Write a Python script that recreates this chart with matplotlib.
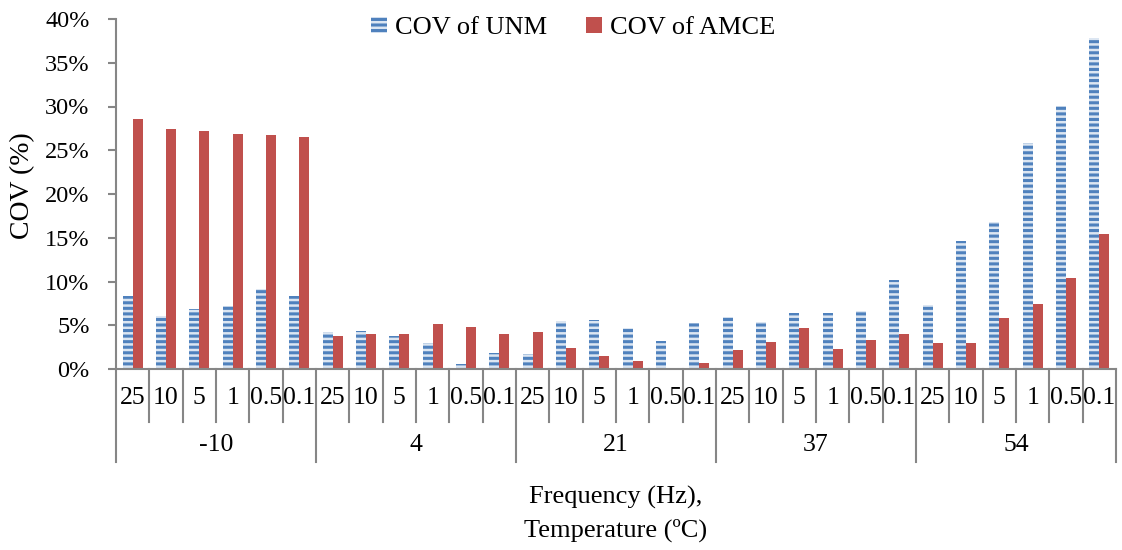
import numpy as np
import matplotlib
matplotlib.use("Agg")
import matplotlib.pyplot as plt
import matplotlib.transforms as mtransforms

plt.rcParams['font.family'] = ['Liberation Serif', 'DejaVu Serif']
plt.rcParams['hatch.linewidth'] = 2.2

# Data. [%]
temperatures = ["-10", "4", "21", "37", "54"]
frequencies = ["25", "10", "5", "1", "0.5", "0.1"]
cov_unm = [8.4, 6.1, 6.9, 7.2, 9.2, 8.4,
           4.25, 4.33, 3.76, 2.96, 0.53, 1.82,
           1.71, 5.47, 5.58, 4.67, 3.15, 5.28,
           5.96, 5.36, 6.35, 6.42, 6.65, 10.14,
           7.29, 14.6, 16.8, 25.8, 30.1, 37.8]
cov_amce = [28.6, 27.4, 27.2, 26.9, 26.7, 26.5,
            3.76, 3.99, 3.95, 5.13, 4.82, 3.99,
            4.25, 2.39, 1.44, 0.91, 0.15, 0.72,
            2.17, 3.08, 4.67, 2.32, 3.30, 3.99,
            2.93, 3.0, 5.85, 7.48, 10.4, 15.46]

AXIS_GREY = '#868686'
BLUE = '#4f81bd'
RED = '#c0504d'
FS = 18.5

n_freq = len(frequencies)
n_cat = len(temperatures) * n_freq
x = np.arange(n_cat)
bar_w = 0.3

fig = plt.figure(figsize=(11.22, 5.5), dpi=100)
ax = fig.add_axes([116 / 1122, 1 - 369 / 550, 1000 / 1122, 350 / 550])

ax.bar(x - bar_w / 2, cov_unm, bar_w, facecolor='#dce6f2', edgecolor=BLUE,
       linewidth=0, hatch='---', label='COV of UNM')
ax.bar(x + bar_w / 2, cov_amce, bar_w, color=RED, linewidth=0, label='COV of AMCE')

ax.set_xlim(-0.5, n_cat - 0.5)
ax.set_ylim(0, 40)
ax.set_yticks(np.arange(0, 41, 5))
ax.set_yticklabels(["{:d}%".format(v) for v in range(0, 41, 5)], fontsize=17.5)
ax.tick_params(axis='y', length=6, width=1.5, color=AXIS_GREY, pad=13)
ax.set_xticks([])
for side in ['top', 'right']:
    ax.spines[side].set_visible(False)
for side in ['left', 'bottom']:
    ax.spines[side].set_color(AXIS_GREY)
    ax.spines[side].set_linewidth(1.5)

# two-level category axis
trans = mtransforms.blended_transform_factory(ax.transData, ax.transAxes)
for i in range(n_cat):
    ax.text(i, -0.083, frequencies[i % n_freq], transform=trans, ha='center',
            va='center', fontsize=FS)
for k in range(n_cat + 1):
    edge = k - 0.5
    bottom = -0.266 if k % n_freq == 0 else -0.151
    ax.plot([edge, edge], [0, bottom], transform=trans, color=AXIS_GREY,
            linewidth=1.5, clip_on=False)
for g, t in enumerate(temperatures):
    ax.text(g * n_freq + (n_freq - 1) / 2, -0.217, t, transform=trans,
            ha='center', va='center', fontsize=FS)

fig.text(616 / 1122, 1 - 497 / 550, "Frequency (Hz),", ha='center', va='center', fontsize=19)
fig.text(616 / 1122, 1 - 530 / 550, "Temperature (ºC)", ha='center', va='center', fontsize=19)
fig.text(23 / 1122, 1 - 186 / 550, "COV (%)", rotation=90, ha='center', va='center', fontsize=20)

fig.legend(loc='center', bbox_to_anchor=(573 / 1122, 1 - 28 / 550), ncol=2,
           frameon=False, fontsize=19, handlelength=0.6, handleheight=0.6,
           handletextpad=0.3, columnspacing=1.5)

fig.savefig("out.png", dpi=100)
